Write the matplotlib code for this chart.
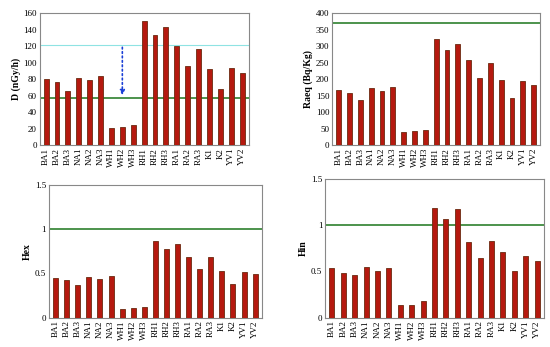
import matplotlib.pyplot as plt
import numpy as np

sites = ["BA1", "BA2", "BA3", "NA1", "NA2", "NA3", "WH1", "WH2", "WH3",
         "RH1", "RH2", "RH3", "RA1", "RA2", "RA3", "K1", "K2", "YV1", "YV2"]
dose = [80, 77, 66, 81, 79, 84, 21, 22, 24, 150, 134, 143, 120, 96, 116, 92, 68, 94, 87]
raeq = [168, 157, 137, 172, 163, 177, 40, 42, 47, 322, 288, 307, 257, 203, 250, 196, 142, 193, 182]
hex_ = [0.45, 0.42, 0.37, 0.46, 0.44, 0.47, 0.10, 0.11, 0.12, 0.87, 0.78, 0.83,
        0.69, 0.55, 0.68, 0.53, 0.38, 0.52, 0.49]
hin = [0.54, 0.48, 0.46, 0.55, 0.50, 0.53, 0.13, 0.14, 0.18, 1.18, 1.06, 1.17,
       0.82, 0.64, 0.83, 0.71, 0.50, 0.67, 0.61]

plt.rcParams['font.family'] = ['Liberation Serif', 'DejaVu Serif']

fig = plt.figure(figsize=(5.5, 3.47), dpi=100)

# [left, bottom, width, height] in figure fraction
panels = [
    ([0.072, 0.582, 0.38, 0.38], dose, "D (nGy/h)", (0, 160), np.arange(0, 161, 20), 57),
    ([0.604, 0.582, 0.378, 0.38], raeq, "Raeq (Bq/Kg)", (0, 400), np.arange(0, 401, 50), 370),
    ([0.089, 0.085, 0.387, 0.382], hex_, "Hex", (0, 1.5), [0, 0.5, 1, 1.5], 1),
    ([0.591, 0.085, 0.398, 0.40], hin, "Hin", (0, 1.5), [0, 0.5, 1, 1.5], 1),
]

x = np.arange(len(sites))
for rect, vals, ylab, ylim, yt, ref in panels:
    ax = fig.add_axes(rect)
    ax.bar(x, vals, width=0.45, color="#b5190f", edgecolor="#6b2a10", linewidth=0.6, zorder=3)
    ax.axhline(ref, color="#3e8a3e", linewidth=1.3, zorder=2)
    ax.set_xlim(-0.6, len(sites) - 0.4)
    ax.set_ylim(*ylim)
    ax.set_yticks(yt)
    ax.set_yticklabels([("%g" % v) for v in yt])
    ax.set_xticks(x)
    ax.set_xticklabels(sites, rotation=90)
    ax.tick_params(labelsize=6.5, length=0, pad=2)
    ax.set_ylabel(ylab, fontsize=7, fontweight="bold", labelpad=2)
    for s in ax.spines.values():
        s.set_color("#888888")
        s.set_linewidth(0.8)
    if ylab.startswith("D"):
        ax.axhline(122, color="#8fe3e3", linewidth=0.8, zorder=1)
        ax.annotate("", xy=(7, 57), xytext=(7, 122),
                    arrowprops=dict(arrowstyle="-|>", color="#1a3fd6",
                                    linestyle=":", linewidth=1.2, mutation_scale=7))

plt.savefig("out.png", dpi=100)
